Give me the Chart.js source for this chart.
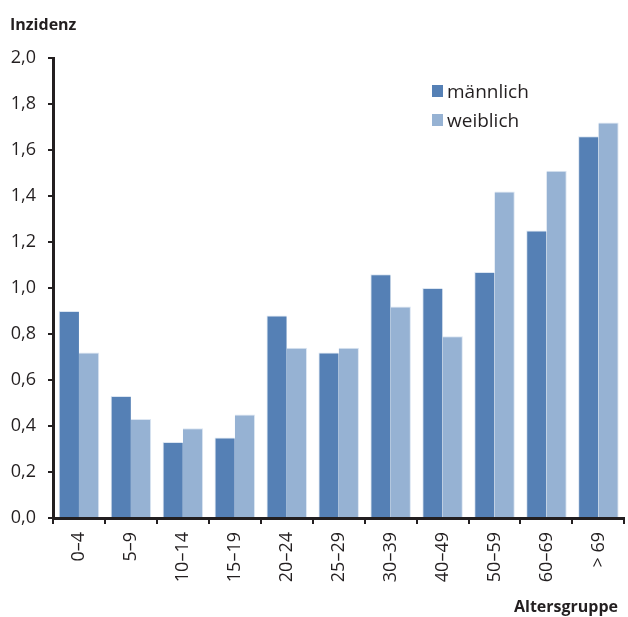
<!DOCTYPE html>
<html>
<head>
<meta charset="utf-8">
<script src="https://cdn.jsdelivr.net/npm/chart.js"></script>
<style>
  html, body { margin:0; padding:0; background:#fff; }
  #wrap { position:relative; width:628px; height:617px; font-family:"Open Sans", sans-serif; color:#231f20; }
  #chart { position:absolute; left:0; top:0; }
  .axis-title { position:absolute; font-weight:bold; font-size:16px; }
  #legend { position:absolute; left:432px; top:76px; font-size:19px; }
  .leg-item { height:29px; display:flex; align-items:center; }
  .leg-box { width:11px; height:12px; margin-right:4px; }
</style>
</head>
<body>
<div id="wrap">
  <canvas id="chart" width="628" height="617"></canvas>
  <div class="axis-title" style="left:10px; top:13px;">Inzidenz</div>
  <div class="axis-title" style="left:514px; top:595px;">Altersgruppe</div>
  <div id="legend"></div>
</div>
<script>
// --- Data ---
const ageGroups = ['0–4','5–9','10–14','15–19','20–24','25–29','30–39','40–49','50–59','60–69','> 69'];
const maleValues   = [0.90, 0.53, 0.33, 0.35, 0.88, 0.72, 1.06, 1.00, 1.07, 1.25, 1.66];
const femaleValues = [0.72, 0.43, 0.39, 0.45, 0.74, 0.74, 0.92, 0.79, 1.42, 1.51, 1.72];
const yTicks = [0, 0.2, 0.4, 0.6, 0.8, 1.0, 1.2, 1.4, 1.6, 1.8, 2.0];

const seriesNames = ['männlich', 'weiblich'];
const seriesColors = ['#5580b5', '#96b2d3'];
const axisColor = '#231f20';

// --- Chart ---
const ctx = document.getElementById('chart').getContext('2d');
const chart = new Chart(ctx, {
  type: 'bar',
  data: {
    labels: ageGroups,
    datasets: [
      {label: seriesNames[0], data: maleValues, backgroundColor: seriesColors[0], borderColor: '#dce6f2', borderWidth: {top:1, left:1, right:0, bottom:0}},
      {label: seriesNames[1], data: femaleValues, backgroundColor: seriesColors[1], borderColor: '#dce6f2', borderWidth: {top:1, left:0, right:1, bottom:0}}
    ]
  },
  options: {
    responsive: false,
    animation: false,
    layout: { padding: { top: 58, left: 0, right: 0, bottom: 0 } },
    plugins: { legend: { display: false }, tooltip: { enabled: false } },
    datasets: { bar: { categoryPercentage: 0.78, barPercentage: 1.0 } },
    scales: {
      x: {
        grid: { drawOnChartArea: false, offset: true, tickLength: 6, color: axisColor, lineWidth: 2 },
        border: { color: axisColor, width: 3 },
        ticks: {
          minRotation: 90, maxRotation: 90, padding: 8,
          color: axisColor, font: { family: 'Open Sans', size: 18 }
        },
        afterFit: s => { s.height = 99; }
      },
      y: {
        min: 0, max: 2,
        afterBuildTicks: s => { s.ticks = yTicks.map(v => ({value: v})); },
        grid: { drawOnChartArea: false, tickLength: 5, color: axisColor, lineWidth: 2 },
        border: { color: axisColor, width: 3 },
        ticks: {
          padding: 12, color: axisColor, font: { family: 'Open Sans', size: 18 },
          callback: v => v.toFixed(1).replace('.', ',')
        },
        afterFit: s => { s.width = 53; }
      }
    }
  }
});

// --- Legend (HTML) ---
const legend = document.getElementById('legend');
chart.data.datasets.forEach(ds => {
  const item = document.createElement('div');
  item.className = 'leg-item';
  item.innerHTML = `<span class="leg-box" style="background:${ds.backgroundColor}"></span><span>${ds.label}</span>`;
  legend.appendChild(item);
});
</script>
</body>
</html>
